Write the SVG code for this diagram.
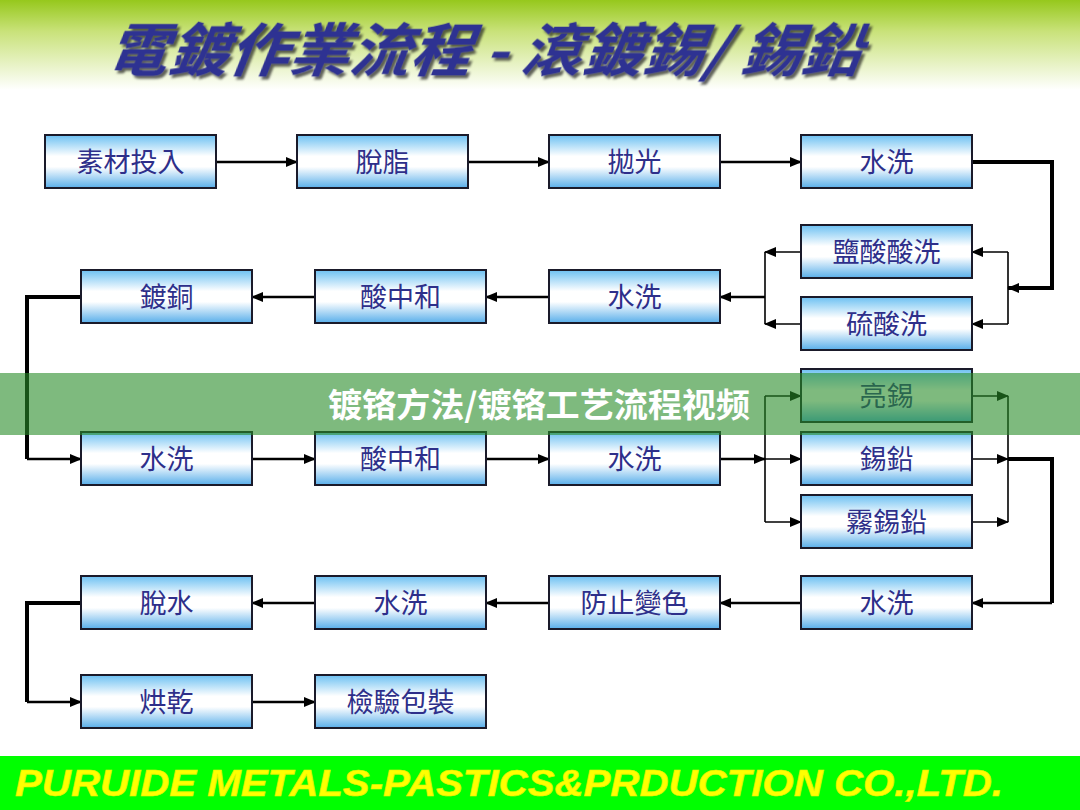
<svg xmlns="http://www.w3.org/2000/svg" width="1080" height="810" viewBox="0 0 1080 810">
<defs>
<linearGradient id="hdr" x1="0" y1="0" x2="0" y2="1">
<stop offset="0" stop-color="#96C81C"/>
<stop offset="0.35" stop-color="#C9E27A"/>
<stop offset="1" stop-color="#FFFFFF"/>
</linearGradient>
<linearGradient id="box" x1="0" y1="0" x2="0" y2="1">
<stop offset="0" stop-color="#6CC0F2"/>
<stop offset="0.4" stop-color="#FFFFFF"/>
<stop offset="0.6" stop-color="#FFFFFF"/>
<stop offset="1" stop-color="#58AEEA"/>
</linearGradient>
<marker id="ah" markerUnits="userSpaceOnUse" markerWidth="12" markerHeight="10" refX="11" refY="5" orient="auto">
<path d="M0,0 L12,5 L0,10 Z" fill="#000"/>
</marker>
<filter id="sh" x="-5%" y="-20%" width="110%" height="140%">
<feDropShadow dx="3" dy="3" stdDeviation="0.8" flood-color="#222" flood-opacity="0.7"/>
</filter>
</defs>
<style>
.b rect{fill:url(#box);stroke:#1a1a2a;stroke-width:2}
.b text{font-family:"Liberation Sans","Noto Sans CJK TC",sans-serif;font-size:27px;fill:#2E2F8A;text-anchor:middle}
.c path{fill:none;stroke:#000}
.t{stroke-width:2.5}
.k{stroke-width:4}
.n{stroke-width:1.6}
</style>
<rect x="0" y="0" width="1080" height="810" fill="#fff"/>
<rect x="0" y="0" width="1080" height="90" fill="url(#hdr)"/>
<text x="105" y="71" textLength="755" lengthAdjust="spacingAndGlyphs" font-family="Noto Sans CJK TC, sans-serif" font-size="58" font-weight="bold" font-style="italic" fill="#2E3192" filter="url(#sh)" transform="skewX(-8) translate(10,0)">電鍍作業流程 - 滾鍍錫/ 錫鉛</text>

<g class="c">
<path class="t" d="M216,162 H297" marker-end="url(#ah)"/>
<path class="t" d="M468,162 H549" marker-end="url(#ah)"/>
<path class="t" d="M720,162 H801" marker-end="url(#ah)"/>
<path class="k" d="M972,162 H1052 V288 H1008" marker-end="url(#ah)"/>
<path class="n" d="M1008,252 V324"/>
<path class="n" d="M1008,252 H972" marker-end="url(#ah)"/>
<path class="n" d="M1008,324 H972" marker-end="url(#ah)"/>
<path class="n" d="M801,252 H765" marker-end="url(#ah)"/>
<path class="n" d="M801,324 H765" marker-end="url(#ah)"/>
<path class="n" d="M765,252 V324"/>
<path class="t" d="M765,297 H720" marker-end="url(#ah)"/>
<path class="t" d="M549,297 H486" marker-end="url(#ah)"/>
<path class="t" d="M315,297 H252" marker-end="url(#ah)"/>
<path class="k" d="M81,297 H27 V459"/>
<path class="t" d="M27,459 H81" marker-end="url(#ah)"/>
<path class="t" d="M252,459 H315" marker-end="url(#ah)"/>
<path class="t" d="M486,459 H549" marker-end="url(#ah)"/>
<path class="t" d="M720,459 H765" marker-end="url(#ah)"/>
<path class="n" d="M765,396 V522"/>
<path class="n" d="M765,396 H801" marker-end="url(#ah)"/>
<path class="n" d="M765,459 H801" marker-end="url(#ah)"/>
<path class="n" d="M765,522 H801" marker-end="url(#ah)"/>
<path class="n" d="M972,396 H1008" marker-end="url(#ah)"/>
<path class="n" d="M972,459 H1008" marker-end="url(#ah)"/>
<path class="n" d="M972,522 H1008" marker-end="url(#ah)"/>
<path class="n" d="M1008,396 V522"/>
<path class="k" d="M1008,459 H1052 V603"/>
<path class="t" d="M1052,603 H972" marker-end="url(#ah)"/>
<path class="t" d="M801,603 H720" marker-end="url(#ah)"/>
<path class="t" d="M549,603 H486" marker-end="url(#ah)"/>
<path class="t" d="M315,603 H252" marker-end="url(#ah)"/>
<path class="k" d="M81,603 H27 V702"/>
<path class="t" d="M27,702 H81" marker-end="url(#ah)"/>
<path class="t" d="M252,702 H315" marker-end="url(#ah)"/>
</g>

<g id="n1" class="b"><rect x="45" y="135" width="171" height="53"/><text x="130.5" y="172">素材投入</text></g>
<g id="n2" class="b"><rect x="297" y="135" width="171" height="53"/><text x="382.5" y="172">脫脂</text></g>
<g id="n3" class="b"><rect x="549" y="135" width="171" height="53"/><text x="634.5" y="172">拋光</text></g>
<g id="n4" class="b"><rect x="801" y="135" width="171" height="53"/><text x="886.5" y="172">水洗</text></g>
<g id="n5" class="b"><rect x="801" y="225" width="171" height="53"/><text x="886.5" y="262">鹽酸酸洗</text></g>
<g id="n6" class="b"><rect x="801" y="297" width="171" height="53"/><text x="886.5" y="334">硫酸洗</text></g>
<g id="n7" class="b"><rect x="549" y="270" width="171" height="53"/><text x="634.5" y="307">水洗</text></g>
<g id="n8" class="b"><rect x="315" y="270" width="171" height="53"/><text x="400.5" y="307">酸中和</text></g>
<g id="n9" class="b"><rect x="81" y="270" width="171" height="53"/><text x="166.5" y="307">鍍銅</text></g>
<g id="n10" class="b"><rect x="81" y="432" width="171" height="53"/><text x="166.5" y="469">水洗</text></g>
<g id="n11" class="b"><rect x="315" y="432" width="171" height="53"/><text x="400.5" y="469">酸中和</text></g>
<g id="n12" class="b"><rect x="549" y="432" width="171" height="53"/><text x="634.5" y="469">水洗</text></g>
<g id="n13" class="b"><rect x="801" y="369" width="171" height="53"/><text x="886.5" y="406">亮錫</text></g>
<g id="n14" class="b"><rect x="801" y="432" width="171" height="53"/><text x="886.5" y="469">錫鉛</text></g>
<g id="n15" class="b"><rect x="801" y="495" width="171" height="53"/><text x="886.5" y="532">霧錫鉛</text></g>
<g id="n16" class="b"><rect x="801" y="576" width="171" height="53"/><text x="886.5" y="613">水洗</text></g>
<g id="n17" class="b"><rect x="549" y="576" width="171" height="53"/><text x="634.5" y="613">防止變色</text></g>
<g id="n18" class="b"><rect x="315" y="576" width="171" height="53"/><text x="400.5" y="613">水洗</text></g>
<g id="n19" class="b"><rect x="81" y="576" width="171" height="53"/><text x="166.5" y="613">脫水</text></g>
<g id="n20" class="b"><rect x="81" y="675" width="171" height="53"/><text x="166.5" y="712">烘乾</text></g>
<g id="n21" class="b"><rect x="315" y="675" width="171" height="53"/><text x="400.5" y="712">檢驗包裝</text></g>

<rect x="0" y="373" width="1080" height="62" fill="rgb(40,140,40)" fill-opacity="0.6"/>
<text x="328" y="417" textLength="422" lengthAdjust="spacingAndGlyphs" font-family="Noto Sans CJK SC, sans-serif" font-size="33" font-weight="bold" fill="#fff">镀铬方法/镀铬工艺流程视频</text>

<rect x="0" y="756" width="1080" height="54" fill="#00FF00"/>
<text x="15" y="796" textLength="988" lengthAdjust="spacingAndGlyphs" font-family="Liberation Sans, sans-serif" font-size="37" font-weight="bold" font-style="italic" fill="#FFFF00" stroke="#E8F000" stroke-width="0.6">PURUIDE METALS-PASTICS&amp;PRDUCTION CO.,LTD.</text>
</svg>
